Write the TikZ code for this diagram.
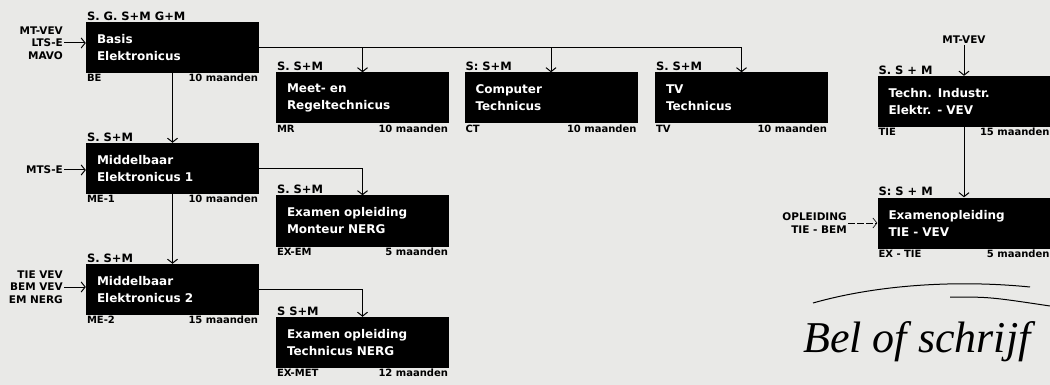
\documentclass[tikz,border=0pt]{standalone}
\usepackage{fontspec}
\setmainfont{DejaVu Sans}
\newfontfamily\handfont{Liberation Serif}
\usetikzlibrary{arrows.meta,positioning}
\definecolor{paper}{RGB}{233,233,231}

\begin{document}
\begin{tikzpicture}[
  x=1pt,y=-1pt,
  course/.style={rectangle,fill=black,text=white,minimum width=173pt,
                 minimum height=51pt,text width=151pt,inner xsep=11pt,
                 align=left,font=\fontsize{12}{17}\selectfont\bfseries},
  entry/.style={font=\fontsize{10.5}{12.5}\selectfont\bfseries,align=right,inner sep=1pt},
  tag/.style={font=\fontsize{10}{11}\selectfont\bfseries,inner sep=1pt},
  level/.style={font=\fontsize{11.5}{12}\selectfont\bfseries,inner sep=1pt},
  arr/.style={-{Straight Barb[length=4pt,width=10pt]},line width=1pt}
]

  % Fond
  \fill[paper] (0,0) rectangle (1050,385);
  \useasboundingbox (0,0) rectangle (1050,385);

  % Colonne gauche
  \node[course] (be) at (172.5,47.5) {Basis\\Elektronicus};
  \node[level,anchor=south west] (be-t) at (be.north west) {S. G. S+M G+M};
  \node[tag,anchor=north west] (be-c) at (be.south west) {BE};
  \node[tag,anchor=north east] (be-d) at (be.south east) {10 maanden};
  \node[entry,anchor=east] (be-in) at (64,43) {MT-VEV\\LTS-E\\MAVO};

  \node[course] (me1) at (172.5,168.5) {Middelbaar\\Elektronicus 1};
  \node[level,anchor=south west] (me1-t) at (me1.north west) {S. S+M};
  \node[tag,anchor=north west] (me1-c) at (me1.south west) {ME-1};
  \node[tag,anchor=north east] (me1-d) at (me1.south east) {10 maanden};
  \node[entry,anchor=east] (me1-in) at (64,170) {MTS-E};

  \node[course] (me2) at (172.5,289.5) {Middelbaar\\Elektronicus 2};
  \node[level,anchor=south west] (me2-t) at (me2.north west) {S. S+M};
  \node[tag,anchor=north west] (me2-c) at (me2.south west) {ME-2};
  \node[tag,anchor=north east] (me2-d) at (me2.south east) {15 maanden};
  \node[entry,anchor=east] (me2-in) at (64,287) {TIE VEV\\BEM VEV\\EM NERG};

  % Rangee du haut
  \node[course] (mr) at (362.5,98) {Meet- en\\Regeltechnicus};
  \node[level,anchor=south west] (mr-t) at (mr.north west) {S. S+M};
  \node[tag,anchor=north west] (mr-c) at (mr.south west) {MR};
  \node[tag,anchor=north east] (mr-d) at (mr.south east) {10 maanden};

  \node[course] (ct) at (551,98) {Computer\\Technicus};
  \node[level,anchor=south west] (ct-t) at (ct.north west) {S: S+M};
  \node[tag,anchor=north west] (ct-c) at (ct.south west) {CT};
  \node[tag,anchor=north east] (ct-d) at (ct.south east) {10 maanden};

  \node[course] (tv) at (741.5,98) {TV\\Technicus};
  \node[level,anchor=south west] (tv-t) at (tv.north west) {S. S+M};
  \node[tag,anchor=north west] (tv-c) at (tv.south west) {TV};
  \node[tag,anchor=north east] (tv-d) at (tv.south east) {10 maanden};

  % Examens
  \node[course] (exem) at (362.5,221) {Examen opleiding\\Monteur NERG};
  \node[level,anchor=south west] (exem-t) at (exem.north west) {S. S+M};
  \node[tag,anchor=north west] (exem-c) at (exem.south west) {EX-EM};
  \node[tag,anchor=north east] (exem-d) at (exem.south east) {5 maanden};

  \node[course] (exmet) at (362.5,342.5) {Examen opleiding\\Technicus NERG};
  \node[level,anchor=south west] (exmet-t) at (exmet.north west) {S S+M};
  \node[tag,anchor=north west] (exmet-c) at (exmet.south west) {EX-MET};
  \node[tag,anchor=north east] (exmet-d) at (exmet.south east) {12 maanden};

  % Colonne droite
  \node[course] (tie) at (964,101.5) {Techn. Industr.\\Elektr. - VEV};
  \node[level,anchor=south west] (tie-t) at (tie.north west) {S. S + M};
  \node[tag,anchor=north west] (tie-c) at (tie.south west) {TIE};
  \node[tag,anchor=north east] (tie-d) at (tie.south east) {15 maanden};
  \node[entry] (tie-in) at (964,40) {MT-VEV};

  \node[course] (extie) at (964,223) {Examenopleiding\\TIE - VEV};
  \node[level,anchor=south west] (extie-t) at (extie.north west) {S: S + M};
  \node[tag,anchor=north west] (extie-c) at (extie.south west) {EX - TIE};
  \node[tag,anchor=north east] (extie-d) at (extie.south east) {5 maanden};
  \node[entry,anchor=east] (extie-in) at (848,223) {OPLEIDING\\TIE - BEM};

  % Fleches
  \draw[arr] (be-in.east) -- (be-in.east -| be.west);
  \draw[arr] (me1-in.east) -- (me1-in.east -| me1.west);
  \draw[arr] (me2-in.east) -- (me2-in.east -| me2.west);
  \draw[arr,line width=.6pt,dash pattern=on 7pt off 2pt] (extie-in.east) -- (extie-in.east -| extie.west);
  \draw[arr] (be) -- (me1);
  \draw[arr] (me1) -- (me2);
  \draw[arr] (be.east) -| (mr.north);
  \draw[arr] (be.east) -| (ct.north);
  \draw[arr] (be.east) -| (tv.north);
  \draw[arr] (me1.east) -| (exem.north);
  \draw[arr] (me2.east) -| (exmet.north);
  \draw[arr] (tie-in) -- (tie);
  \draw[arr] (tie) -- (extie);

  % Bel of schrijf
  \draw[line width=1pt] (813,303) .. controls (880,284) and (960,280) .. (1030,287);
  \draw[line width=1pt] (950,297) .. controls (990,297) .. (1050,306);
  \node[font=\handfont\itshape\fontsize{44}{48}\selectfont,anchor=base west,inner sep=0pt]
    (bel) at (803,352) {Bel of schrijf};

\end{tikzpicture}
\end{document}
